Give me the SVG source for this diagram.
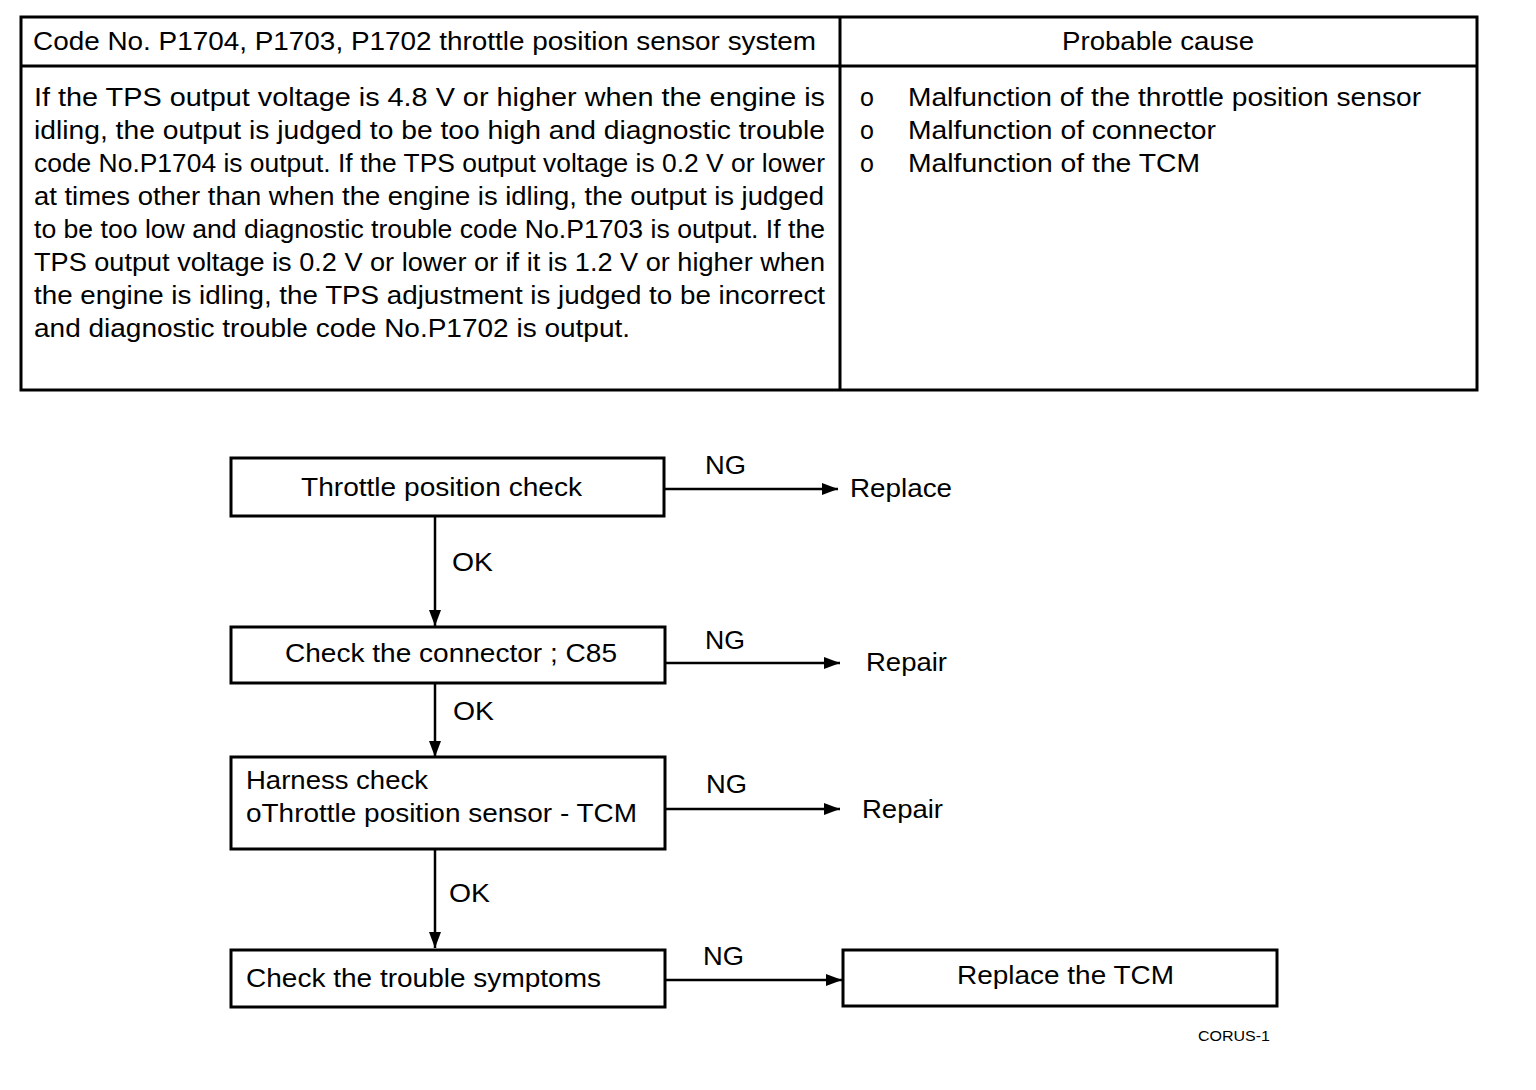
<svg xmlns="http://www.w3.org/2000/svg" width="1536" height="1090" viewBox="0 0 1536 1090">
<defs>
<marker id="ah" viewBox="0 0 16 12" refX="16" refY="6" markerWidth="16" markerHeight="12" markerUnits="userSpaceOnUse" orient="auto">
<path d="M0,0 L16,6 L0,12 Z" fill="#000"/>
</marker>
</defs>
<style>
text{font-family:"Liberation Sans",Arial,sans-serif;font-size:25px;fill:#000}
.box{fill:#fff;stroke:#000;stroke-width:3}
.tbl{fill:none;stroke:#000;stroke-width:3}
.con{stroke:#000;stroke-width:2.5;fill:none;marker-end:url(#ah)}
.sm{font-size:15px}
</style>
<rect width="1536" height="1090" fill="#fff"/>
<g id="table">
<rect class="tbl" x="21" y="17" width="1456" height="373"/>
<line class="tbl" x1="21" y1="66" x2="1477" y2="66"/>
<line class="tbl" x1="840" y1="17" x2="840" y2="390"/>
<text x="33" y="50" textLength="783" lengthAdjust="spacingAndGlyphs">Code No. P1704, P1703, P1702 throttle position sensor system</text>
<text x="1062" y="50" textLength="192" lengthAdjust="spacingAndGlyphs">Probable cause</text>
<text x="34" y="106" textLength="791" lengthAdjust="spacingAndGlyphs">If the TPS output voltage is 4.8 V or higher when the engine is</text>
<text x="34" y="139" textLength="791" lengthAdjust="spacingAndGlyphs">idling, the output is judged to be too high and diagnostic trouble</text>
<text x="34" y="172" textLength="791" lengthAdjust="spacingAndGlyphs">code No.P1704 is output. If the TPS output voltage is 0.2 V or lower</text>
<text x="34" y="205" textLength="790" lengthAdjust="spacingAndGlyphs">at times other than when the engine is idling, the output is judged</text>
<text x="34" y="238" textLength="791" lengthAdjust="spacingAndGlyphs">to be too low and diagnostic trouble code No.P1703 is output. If the</text>
<text x="34" y="271" textLength="791" lengthAdjust="spacingAndGlyphs">TPS output voltage is 0.2 V or lower or if it is 1.2 V or higher when</text>
<text x="34" y="304" textLength="791" lengthAdjust="spacingAndGlyphs">the engine is idling, the TPS adjustment is judged to be incorrect</text>
<text x="34" y="337" textLength="596" lengthAdjust="spacingAndGlyphs">and diagnostic trouble code No.P1702 is output.</text>
<text x="860" y="106">o</text>
<text x="908" y="106" textLength="513" lengthAdjust="spacingAndGlyphs">Malfunction of the throttle position sensor</text>
<text x="860" y="139">o</text>
<text x="908" y="139" textLength="308" lengthAdjust="spacingAndGlyphs">Malfunction of connector</text>
<text x="860" y="172">o</text>
<text x="908" y="172" textLength="292" lengthAdjust="spacingAndGlyphs">Malfunction of the TCM</text>
</g>
<g id="connectors">
<line class="con" x1="664" y1="489" x2="838" y2="489"/>
<line class="con" x1="435" y1="516" x2="435" y2="626"/>
<line class="con" x1="665" y1="663" x2="840" y2="663"/>
<line class="con" x1="435" y1="683" x2="435" y2="757"/>
<line class="con" x1="665" y1="809" x2="840" y2="809"/>
<line class="con" x1="435" y1="849" x2="435" y2="948"/>
<line class="con" x1="665" y1="980" x2="842" y2="980"/>
<text x="705" y="474" textLength="41" lengthAdjust="spacingAndGlyphs">NG</text>
<text x="452" y="571" textLength="41" lengthAdjust="spacingAndGlyphs">OK</text>
<text x="705" y="649" textLength="40" lengthAdjust="spacingAndGlyphs">NG</text>
<text x="453" y="720" textLength="41" lengthAdjust="spacingAndGlyphs">OK</text>
<text x="706" y="793" textLength="41" lengthAdjust="spacingAndGlyphs">NG</text>
<text x="449" y="902" textLength="41" lengthAdjust="spacingAndGlyphs">OK</text>
<text x="703" y="965" textLength="41" lengthAdjust="spacingAndGlyphs">NG</text>
</g>
<g id="n1">
<rect class="box" x="231" y="458" width="433" height="58"/>
<text x="301" y="496" textLength="281" lengthAdjust="spacingAndGlyphs">Throttle position check</text>
</g>
<g id="r1"><text x="850" y="497" textLength="102" lengthAdjust="spacingAndGlyphs">Replace</text></g>
<g id="n2">
<rect class="box" x="231" y="627" width="434" height="56"/>
<text x="285" y="662" textLength="332" lengthAdjust="spacingAndGlyphs">Check the connector ; C85</text>
</g>
<g id="r2"><text x="866" y="671" textLength="81" lengthAdjust="spacingAndGlyphs">Repair</text></g>
<g id="n3">
<rect class="box" x="231" y="757" width="434" height="92"/>
<text x="246" y="789" textLength="182" lengthAdjust="spacingAndGlyphs">Harness check</text>
<text x="246" y="822" textLength="391" lengthAdjust="spacingAndGlyphs">oThrottle position sensor - TCM</text>
</g>
<g id="r3"><text x="862" y="818" textLength="81" lengthAdjust="spacingAndGlyphs">Repair</text></g>
<g id="n4">
<rect class="box" x="231" y="950" width="434" height="57"/>
<text x="246" y="987" textLength="355" lengthAdjust="spacingAndGlyphs">Check the trouble symptoms</text>
</g>
<g id="n5">
<rect class="box" x="843" y="950" width="434" height="56"/>
<text x="957" y="984" textLength="217" lengthAdjust="spacingAndGlyphs">Replace the TCM</text>
</g>
<text class="sm" x="1198" y="1041" textLength="72" lengthAdjust="spacingAndGlyphs">CORUS-1</text>
</svg>
